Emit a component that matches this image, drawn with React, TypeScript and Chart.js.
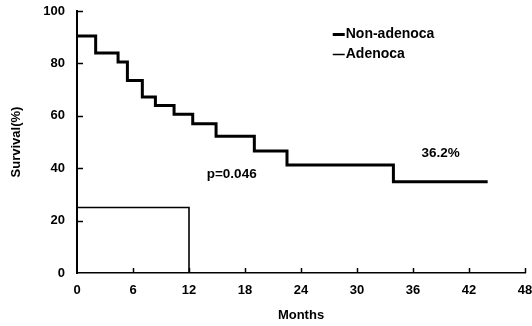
import React, { useEffect, useRef } from "react";
import { Chart, registerables } from "chart.js";

Chart.register(...registerables);

// ---- data ----
const seriesNames = ["Non-adenoca", "Adenoca"];
const nonAdenocaMonths = [0, 2, 4.4, 5.4, 7, 8.4, 10.4, 12.4, 14.9, 19, 22.5, 33.9, 44];
const nonAdenocaSurvival = [90.5, 84, 80.5, 73.5, 67.2, 63.9, 60.6, 57, 52.2, 46.6, 41.2, 34.8, 34.8];
const adenocaMonths = [0, 12, 12];
const adenocaSurvival = [25, 25, 0];
const xTickValues = [0, 6, 12, 18, 24, 30, 36, 42, 48];
const yTickValues = [0, 20, 40, 60, 80, 100];
const annotationTexts = ["p=0.046", "36.2%"];
const annotationAt = [
  { x: 13.9, y: 37.7 },
  { x: 36.9, y: 45.7 },
];
const legendAt = { x: 27.4, y: [91.4, 83.4] };

const FONT = "'Liberation Sans', Arial, sans-serif";

const inwardTicks = {
  id: "inwardTicks",
  afterDatasetsDraw(chart: any) {
    const { ctx, scales } = chart;
    const xs = scales.x;
    const ys = scales.y;
    ctx.save();
    ctx.strokeStyle = "#000";
    ctx.lineWidth = 1.5;
    yTickValues.forEach((v) => {
      if (v === 0) return;
      const py = Math.round(ys.getPixelForValue(v)) + 0.5;
      ctx.beginPath();
      ctx.moveTo(xs.left, py);
      ctx.lineTo(xs.left + 6, py);
      ctx.stroke();
    });
    xTickValues.forEach((v) => {
      if (v === 0) return;
      const px = Math.round(xs.getPixelForValue(v)) + 0.5;
      ctx.beginPath();
      ctx.moveTo(px, ys.bottom);
      ctx.lineTo(px, ys.bottom - 5);
      ctx.stroke();
    });

    // annotations
    ctx.fillStyle = "#000";
    ctx.font = `bold 13.5px ${FONT}`;
    ctx.textBaseline = "middle";
    ctx.textAlign = "left";
    annotationTexts.forEach((t, i) => {
      ctx.fillText(t, xs.getPixelForValue(annotationAt[i].x), ys.getPixelForValue(annotationAt[i].y));
    });

    // legend
    const widths = [3, 1.5];
    ctx.font = `bold 14px ${FONT}`;
    seriesNames.forEach((name, i) => {
      const lx = xs.getPixelForValue(legendAt.x);
      const ly = Math.round(ys.getPixelForValue(legendAt.y[i])) + 0.5;
      ctx.lineWidth = widths[i];
      ctx.beginPath();
      ctx.moveTo(lx, ly);
      ctx.lineTo(lx + 12, ly);
      ctx.stroke();
      ctx.fillText(name, lx + 13, ly);
    });
    ctx.restore();
  },
};

export default function App() {
  const ref = useRef<HTMLCanvasElement | null>(null);
  useEffect(() => {
    if (!ref.current) return;
    const chart = new Chart(ref.current, {
      type: "line",
      data: {
        datasets: [
          {
            label: seriesNames[0],
            data: nonAdenocaMonths.map((m, i) => ({ x: m, y: nonAdenocaSurvival[i] })),
            borderColor: "#000",
            borderWidth: 3,
            stepped: "before",
            pointRadius: 0,
            fill: false,
          },
          {
            label: seriesNames[1],
            data: adenocaMonths.map((m, i) => ({ x: m, y: adenocaSurvival[i] })),
            borderColor: "#000",
            borderWidth: 1.6,
            stepped: "before",
            pointRadius: 0,
            fill: false,
          },
        ],
      },
      options: {
        responsive: false,
        animation: false,
        layout: { padding: { top: 11, right: 7, left: 0, bottom: 0 } },
        plugins: { legend: { display: false }, tooltip: { enabled: false } },
        scales: {
          x: {
            type: "linear",
            min: 0,
            max: 48,
            afterBuildTicks: (s: any) => {
              s.ticks = xTickValues.map((v) => ({ value: v }));
            },
            afterFit: (s: any) => {
              s.height = 53;
              s.paddingLeft = 0;
              s.paddingRight = 0;
            },
            grid: { display: false, drawTicks: false },
            border: { display: true, color: "#000", width: 1.5 },
            ticks: { color: "#000", padding: 10, font: { family: FONT, size: 13, weight: "bold" } },
            title: {
              display: true,
              text: "Months",
              color: "#000",
              padding: { top: 0, bottom: 3 },
              font: { family: FONT, size: 13, weight: "bold" },
            },
          },
          y: {
            type: "linear",
            min: 0,
            max: 100,
            afterBuildTicks: (s: any) => {
              s.ticks = yTickValues.map((v) => ({ value: v }));
            },
            afterFit: (s: any) => {
              s.width = 77;
              s.paddingTop = 0;
              s.paddingBottom = 0;
            },
            grid: { display: false, drawTicks: false },
            border: { display: true, color: "#000", width: 2 },
            ticks: { color: "#000", padding: 12, font: { family: FONT, size: 13, weight: "bold" } },
            title: {
              display: true,
              text: "Survival(%)",
              color: "#000",
              padding: { top: 9, bottom: 0 },
              font: { family: FONT, size: 13, weight: "bold" },
            },
          },
        },
      },
      plugins: [inwardTicks],
    });
    return () => chart.destroy();
  }, []);
  return (
    <div style={{ position: "fixed", left: 0, top: 0, width: 532, height: 326, background: "#fff" }}>
      <canvas ref={ref} width={532} height={326} style={{ display: "block" }} />
    </div>
  );
}
